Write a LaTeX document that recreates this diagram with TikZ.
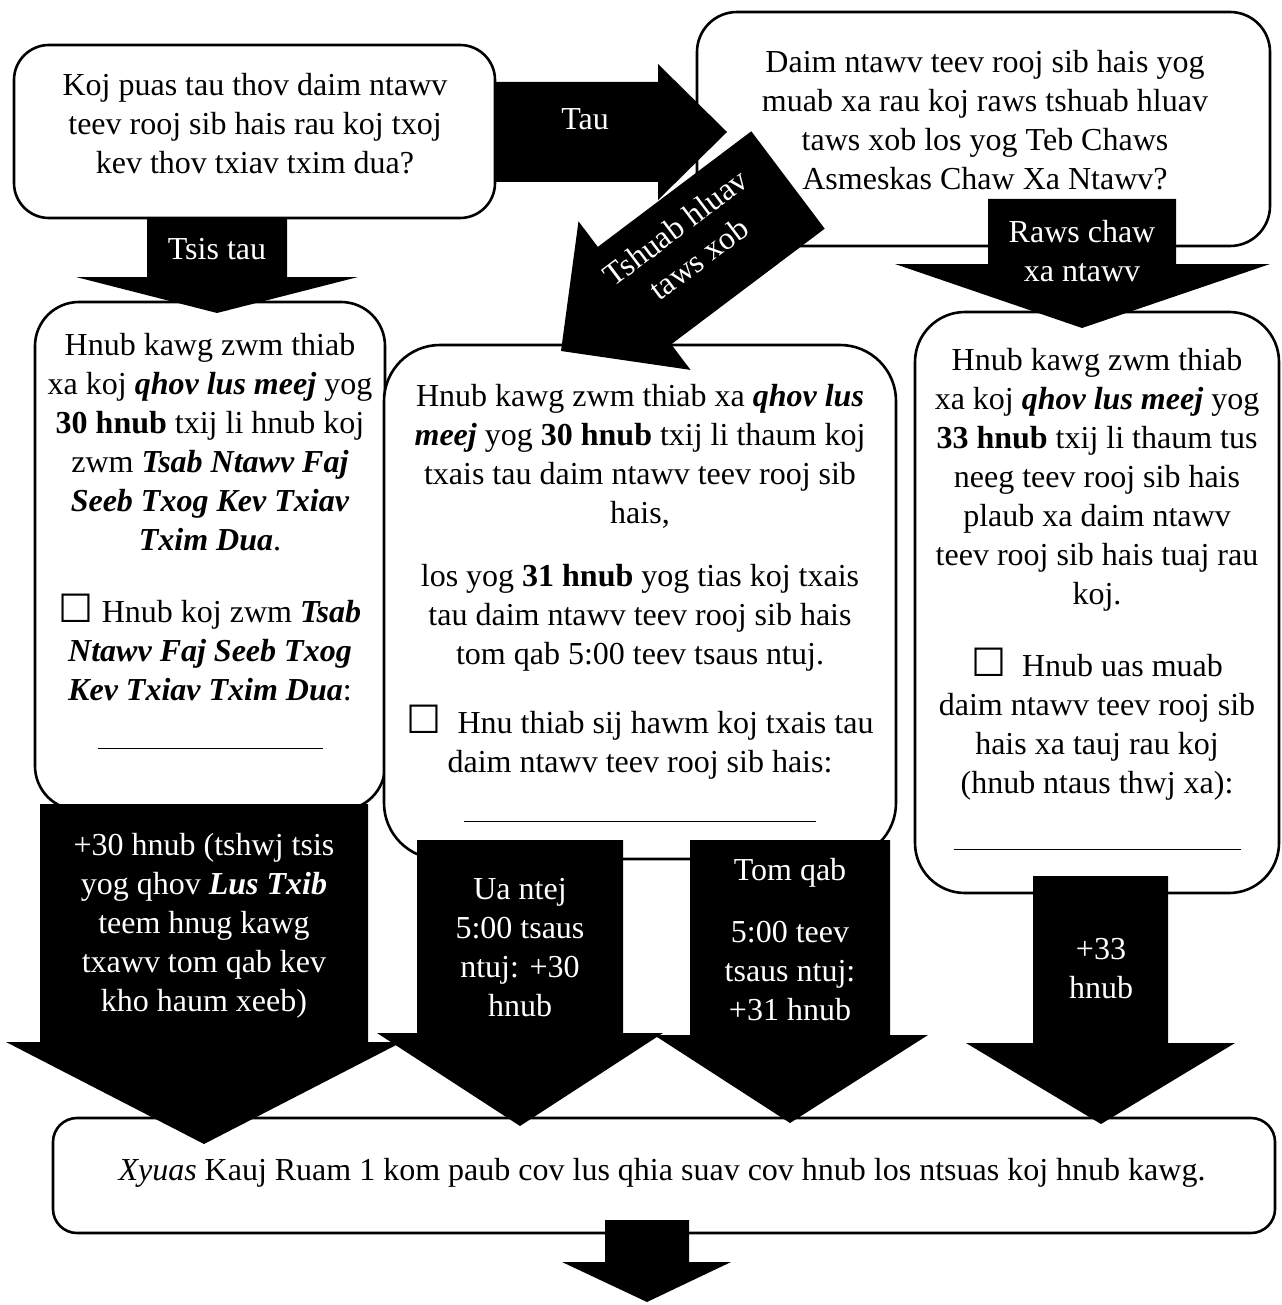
\documentclass[tikz,border=0pt]{standalone}
\usepackage{fontspec}
\setmainfont{Liberation Serif}
\newfontfamily\symfont{DejaVu Sans}
\newcommand{\bi}[1]{\textbf{\textit{#1}}}
\newcommand{\cbox}{{\symfont\fontsize{19.5}{19.5}\selectfont\char"2610}}
\begin{document}
\begin{tikzpicture}[x=0.5pt,y=-0.5pt,
  box/.style={draw=black, line width=1.3pt, fill=white, inner sep=0pt},
  txt/.style={align=center, inner sep=0pt, font=\fontsize{16}{19.5}\selectfont},
  wtxt/.style={txt, text=white},
  blk/.style={fill=black}]
\useasboundingbox (0,0) rectangle (1281,1305);

% boxes
\node[box, rounded corners=17.5pt, minimum width=240.5pt, minimum height=86.5pt] (a) at (254.5,131.5) {};
\node[box, rounded corners=20pt, minimum width=286.5pt, minimum height=117pt] (b) at (983.5,129) {};
\node[box, rounded corners=22pt, minimum width=175pt, minimum height=254pt] (c1) at (210,556) {};
\node[box, rounded corners=28pt, minimum width=256pt, minimum height=257pt] (c2) at (640,602) {};
\node[box, rounded corners=25pt, minimum width=182pt, minimum height=290.5pt] (d) at (1097,602.5) {};
\node[box, rounded corners=12pt, minimum width=611pt, minimum height=57.5pt] (e) at (664,1175.5) {};

% box texts
\node[txt, anchor=north] (ta) at (255,73) {Koj puas tau thov daim ntawv\\teev rooj sib hais rau koj txoj\\kev thov txiav txim dua?};
\node[txt, anchor=north] (tb) at (985,50) {Daim ntawv teev rooj sib hais yog\\muab xa rau koj raws tshuab hluav\\taws xob los yog Teb Chaws\\Asmeskas Chaw Xa Ntawv?};
\node[txt, anchor=north] (tc1) at (210,333) {Hnub kawg zwm thiab\\xa koj \bi{qhov lus meej} yog\\\textbf{30 hnub} txij li hnub koj\\zwm \bi{Tsab Ntawv Faj}\\\bi{Seeb Txog Kev Txiav}\\\bi{Txim Dua}.\\[16.5pt]\cbox{} Hnub koj zwm \bi{Tsab}\\\bi{Ntawv Faj Seeb Txog}\\\bi{Kev Txiav Txim Dua}:\\[4.5pt]\rule{112.5pt}{0.5pt}};
\node[txt, anchor=north] (tc2) at (640,384) {Hnub kawg zwm thiab xa \bi{qhov lus}\\\bi{meej} yog \textbf{30 hnub} txij li thaum koj\\txais tau daim ntawv teev rooj sib\\hais,\\[12pt]los yog \textbf{31 hnub} yog tias koj txais\\tau daim ntawv teev rooj sib hais\\tom qab 5:00 teev tsaus ntuj.\\[15pt]\cbox{}\ \ Hnu thiab sij hawm koj txais tau\\daim ntawv teev rooj sib hais:\\[5pt]\rule{176pt}{0.5pt}};
\node[txt, anchor=north] (td) at (1097,348) {Hnub kawg zwm thiab\\xa koj \bi{qhov lus meej} yog\\\textbf{33 hnub} txij li thaum tus\\neeg teev rooj sib hais\\plaub xa daim ntawv\\teev rooj sib hais tuaj rau\\koj.\\[16.5pt]\cbox{}\ \ Hnub uas muab\\daim ntawv teev rooj sib\\hais xa tauj rau koj\\(hnub ntaus thwj xa):\\[8.5pt]\rule{143.5pt}{0.5pt}};
\node[txt, anchor=north] (te) at (662,1158) {\textit{Xyuas} Kauj Ruam 1 kom paub cov lus qhia suav cov hnub los ntsuas koj hnub kawg.};

% block arrows
\fill[blk] (147,218) -- (287,218) -- (287,277) -- (358,277) -- (217,313) -- (76,277) -- (147,277) -- cycle;
\fill[blk] (495,82) -- (658,82) -- (658,64) -- (727,132) -- (658,200) -- (658,182) -- (495,182) -- cycle;
\fill[blk] (751.3,131.3) -- (597.8,246.9) -- (578.5,221.3) -- (561,351) -- (690.5,369.9) -- (671.2,344.3) -- (824.7,228.7) -- cycle;
\fill[blk] (988,199) -- (1176,199) -- (1176,264) -- (1270,264) -- (1082,328) -- (895,264) -- (988,264) -- cycle;
\fill[blk] (40,804) -- (368,804) -- (368,1042) -- (402,1042) -- (204,1144) -- (6,1042) -- (40,1042) -- cycle;
\fill[blk] (417,840) -- (623,840) -- (623,1033) -- (663,1033) -- (520,1126) -- (377,1033) -- (417,1033) -- cycle;
\fill[blk] (690,840) -- (890,840) -- (890,1035) -- (928,1035) -- (790,1123) -- (654,1035) -- (690,1035) -- cycle;
\fill[blk] (1033,876) -- (1168,876) -- (1168,1043) -- (1235,1043) -- (1101,1124) -- (966,1043) -- (1033,1043) -- cycle;
\fill[blk] (605,1220) -- (689,1220) -- (689,1262) -- (731,1262) -- (647,1302) -- (562,1262) -- (605,1262) -- cycle;

% arrow labels
\node[wtxt, anchor=north] (l1) at (217,238) {Tsis tau};
\node[wtxt, anchor=north] (l2) at (585,108) {Tau};
\node[wtxt, rotate=37] (l3) at (687,243) {Tshuab hluav\\taws xob};
\node[wtxt, anchor=north] (l4) at (1082,220) {Raws chaw\\xa ntawv};
\node[wtxt, anchor=north] (l5) at (204,833) {+30 hnub (tshwj tsis\\yog qhov \bi{Lus Txib}\\teem hnug kawg\\txawv tom qab kev\\kho haum xeeb)};
\node[wtxt, anchor=north] (l6) at (520,878) {Ua ntej\\5:00 tsaus\\ntuj: +30\\hnub};
\node[wtxt, anchor=north] (l7) at (790,858) {Tom qab\\[11.5pt]5:00 teev\\tsaus ntuj:\\+31 hnub};
\node[wtxt, anchor=north] (l8) at (1101,938) {+33\\hnub};
\end{tikzpicture}
\end{document}
